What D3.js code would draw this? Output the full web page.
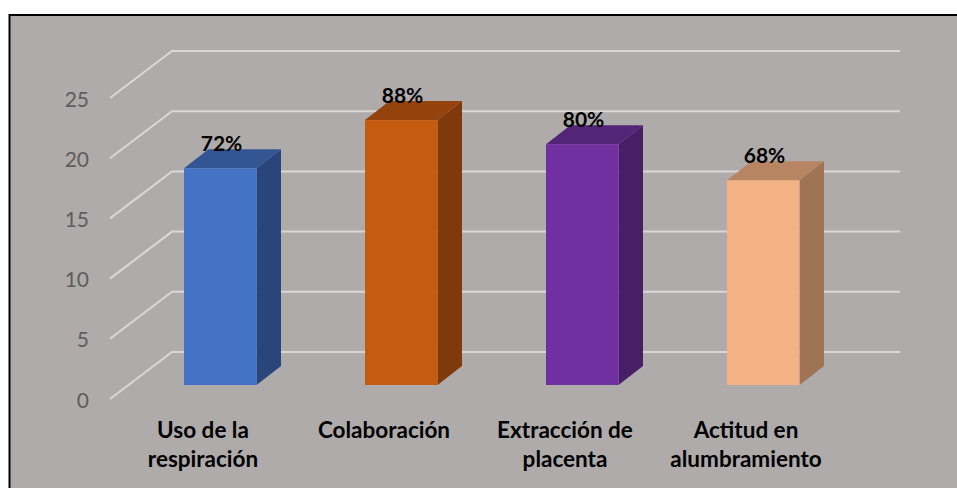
<!DOCTYPE html>
<html><head><meta charset="utf-8">
<style>html,body{margin:0;padding:0;background:#fff}svg{display:block}text{font-family:Lato,"Noto Sans",sans-serif}</style>
<script src="https://cdn.jsdelivr.net/npm/d3@7/dist/d3.min.js"></script>
</head><body><svg id="c" width="957" height="488"></svg>
<script>
const categories=[["Uso de la","respiración"],["Colaboración"],["Extracción de","placenta"],["Actitud en","alumbramiento"]];
const values=[18,22,20,17];
const labels=["72%","88%","80%","68%"];
const yTicks=[0,5,10,15,20,25];
const frontColors=["#4472C4","#C55A11","#7030A0","#F4B183"];
const topColors=["#335593","#94430D","#542478","#B78562"];
const sideColors=["#29457A","#7F3A0B","#481F67","#9F7454"];

const svg=d3.select("#c");
svg.append("rect").attr("x",9.5).attr("y",15).attr("width",960).attr("height",490).attr("fill","#AFABAA").attr("stroke","#000").attr("stroke-width",2);
const yFloor=d3.scaleLinear().domain([0,25]).range([399,98]);
const depth={x:62,y:-47};
const gridRight=900, wallLeft=110;
const g=svg.append("g");
yTicks.forEach(t=>{
  const y=yFloor(t);
  g.append("path").attr("fill","none").attr("stroke","#D9D8D7").attr("stroke-width",2)
   .attr("d",d3.line()([[wallLeft,y],[wallLeft+depth.x,y+depth.y],[gridRight,y+depth.y]]));
  g.append("text").attr("x",89).attr("y",y+8.5).attr("text-anchor","end").attr("font-size",21).attr("fill","#5E5E5E").text(t);
});
const yBar=d3.scaleLinear().domain([0,25]).range([385,84]);
const xs=d3.scaleLinear().domain([0,3]).range([184,727]);
const bw=72.5, dx=24.5, dy=-19;
const bars=svg.selectAll("g.bar").data(values).join("g").attr("class","bar");
bars.each(function(v,i){
  const s=d3.select(this), L=xs(i), R=L+bw, T=yBar(v), B=yBar(0);
  const line=d3.line();
  s.append("path").attr("fill",sideColors[i]).attr("d",line([[R,T],[R+dx,T+dy],[R+dx,B+dy],[R,B]])+"Z");
  s.append("path").attr("fill",topColors[i]).attr("d",line([[L,T],[L+dx,T+dy],[R+dx,T+dy],[R,T]])+"Z");
  s.append("rect").attr("x",L).attr("y",T).attr("width",bw).attr("height",B-T).attr("fill",frontColors[i]);
  s.append("text").attr("x",L+37.5).attr("y",T-17).attr("text-anchor","middle").attr("font-size",21).attr("font-weight",700).attr("fill","#000").text(labels[i]);
  categories[i].forEach((ln,k)=>{
    s.append("text").attr("x",L+19).attr("y",437.5+k*29).attr("text-anchor","middle").attr("font-size",22.5).attr("font-weight",700).attr("fill","#000").text(ln);
  });
});
</script></body></html>
